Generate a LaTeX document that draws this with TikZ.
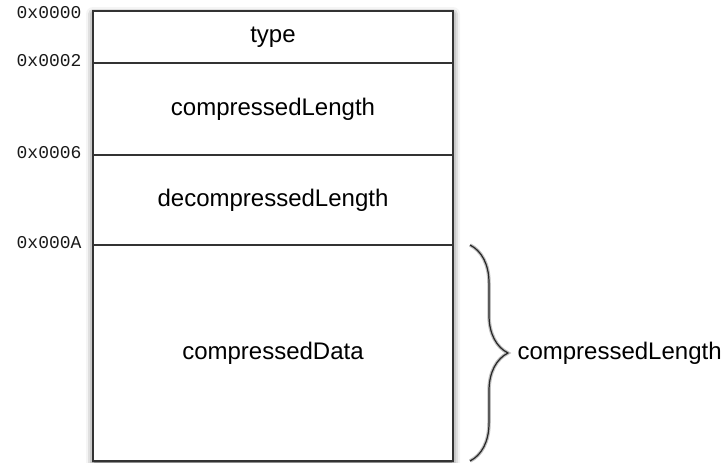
\documentclass[tikz,border=0pt]{standalone}
\usepackage{fontspec}
\setmainfont{Liberation Sans}
\newfontfamily\hexfont{Liberation Mono}
\usetikzlibrary{positioning,calc,decorations.pathreplacing,backgrounds,shadows.blur}

\tikzset{
  field/.style={draw=black!80, line width=1.5pt, fill=white, minimum width=360pt,
    inner sep=0pt, outer sep=0pt, font=\fontsize{24}{28}\selectfont},
  offset/.style={anchor=base east, text=black!90, font=\hexfont\fontsize{18}{20}\selectfont},
  span/.style={anchor=west, font=\fontsize{24}{28}\selectfont},
}

\begin{document}
\begin{tikzpicture}[x=1pt,y=-1pt]
  \useasboundingbox (0,0) rectangle (724,463);
  \def\Xm{273}
  \def\Ytop{37}

  % header fields
  \node[field, minimum height=52pt] (type) at (\Xm,\Ytop) {type};
  \node[field, minimum height=92pt, below=0pt of type] (clen) {compressedLength};
  \node[field, minimum height=90pt, below=0pt of clen] (dlen) {decompressedLength};
  % payload
  \node[field, minimum height=216pt, below=0pt of dlen] (data) {compressedData};

  % shadow behind the record
  \begin{scope}[on background layer]
    \fill[white, blur shadow={shadow xshift=0pt, shadow yshift=-3pt,
      shadow blur radius=7pt, shadow opacity=65}]
      (type.north west) rectangle (data.south east);
  \end{scope}

  % byte offsets
  \node[offset] (o0) at ([xshift=-8pt,yshift=-7pt]type.north west) {0x0000};
  \node[offset] (o2) at ([xshift=-8pt,yshift=-3pt]type.south west) {0x0002};
  \node[offset] (o6) at ([xshift=-8pt,yshift=-3pt]clen.south west) {0x0006};
  \node[offset] (oA) at ([xshift=-8pt,yshift=-3pt]dlen.south west) {0x000A};

  % brace over the data
  \coordinate[right=17pt of data.north east] (bt);
  \coordinate[right=17pt of data.south east] (bb);
  \draw[black!25, line width=3.5pt, decorate, decoration={brace, amplitude=38pt}] (bt) -- (bb);
  \draw[black!85, line width=1.2pt, decorate, decoration={brace, amplitude=38pt}] (bt) -- (bb);
  \node[span] (len) at ($(bt)!0.5!(bb)+(44,0)$) {compressedLength};
\end{tikzpicture}
\end{document}
